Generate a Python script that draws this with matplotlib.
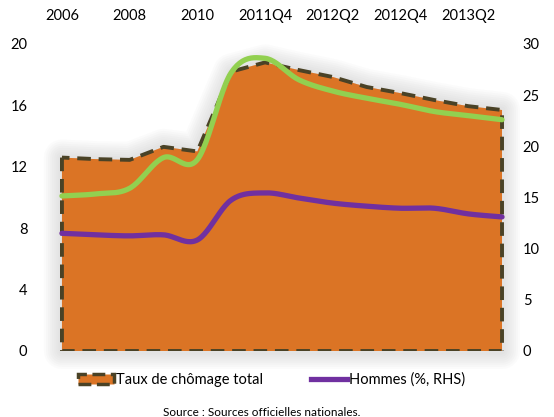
import numpy as np
import matplotlib
matplotlib.use('Agg')
import matplotlib.pyplot as plt
from matplotlib import patheffects as pe
from matplotlib.patches import Patch
from matplotlib.lines import Line2D

plt.rcParams['font.family'] = ['Lato', 'DejaVu Sans']

# données
categories = ['2006', '2007', '2008', '2009', '2010', '2011Q3', '2011Q4', '2012Q1',
              '2012Q2', '2012Q3', '2012Q4', '2013Q1', '2013Q2', '2013Q3']
total = [12.6, 12.5, 12.45, 13.3, 13.0, 18.2, 18.8, 18.3, 17.85, 17.2, 16.8, 16.35, 15.95, 15.7]
femmes_rhs = [15.15, 15.35, 15.9, 18.9, 18.7, 27.2, 28.6, 26.5, 25.4, 24.7, 24.1, 23.4, 23.0, 22.6]
hommes_rhs = [11.5, 11.35, 11.25, 11.35, 10.85, 14.75, 15.45, 14.95, 14.45, 14.15, 13.95, 13.95, 13.4, 13.1]

left_ticks = [0, 4, 8, 12, 16, 20]
right_ticks = [0, 5, 10, 15, 20, 25, 30]

ORANGE = '#DB7425'
EDGE = '#4A4226'
GREEN = '#92D050'
PURPLE = '#7030A0'


def smooth(x, y, n=24):
    # lissage type Excel (Catmull-Rom)
    x = np.asarray(x, float)
    y = np.asarray(y, float)
    px = np.concatenate([[2 * x[0] - x[1]], x, [2 * x[-1] - x[-2]]])
    py = np.concatenate([[2 * y[0] - y[1]], y, [2 * y[-1] - y[-2]]])
    xs, ys = [], []
    t = np.linspace(0, 1, n, endpoint=False)
    for i in range(1, len(px) - 2):
        for p, out in ((px, xs), (py, ys)):
            p0, p1, p2, p3 = p[i - 1], p[i], p[i + 1], p[i + 2]
            out.append(0.5 * (2 * p1 + (-p0 + p2) * t + (2 * p0 - 5 * p1 + 4 * p2 - p3) * t ** 2
                              + (-p0 + 3 * p1 - 3 * p2 + p3) * t ** 3))
    xs.append([x[-1]])
    ys.append([y[-1]])
    return np.concatenate(xs), np.concatenate(ys)


fig = plt.figure(figsize=(5.54, 4.17), dpi=100)
ax = fig.add_axes([0.0996, 0.1583, 0.8188, 0.7362])
ax2 = ax.twinx()

x = np.arange(len(categories))

# ombre douce autour de l'aire
shadow = ax.fill_between(x, 0, total, facecolor=ORANGE, edgecolor='none',
                         linewidth=0, zorder=1)
shadow.set_path_effects([pe.Stroke(linewidth=w, foreground='#707070', alpha=0.025,
                                   joinstyle='round')
                         for w in range(26, 2, -3)])
shadow.set_clip_on(False)

ax.fill_between(x, 0, total, facecolor=ORANGE, edgecolor=EDGE,
                linewidth=2.8, linestyle=(0, (3.5, 2)), zorder=2)

gx, gy = smooth(x, femmes_rhs)
ax2.plot(gx, gy, color=GREEN, lw=3.8, solid_capstyle='round', zorder=3)
hx, hy = smooth(x, hommes_rhs)
ax2.plot(hx, hy, color=PURPLE, lw=3.8, solid_capstyle='round', zorder=3)

ax.set_xlim(-0.2, 13.2)
ax.set_ylim(0, 20)
ax2.set_ylim(0, 30)
ax.set_yticks(left_ticks)
ax2.set_yticks(right_ticks)
ax.set_xticks(x[::2])
ax.set_xticklabels(categories[::2])
ax.xaxis.tick_top()

for a in (ax, ax2):
    for s in a.spines.values():
        s.set_visible(False)
    a.tick_params(length=0, labelsize=10.5, colors='black')
ax.tick_params(axis='y', pad=20)
ax.tick_params(axis='x', pad=15)
ax2.tick_params(axis='y', pad=10)

handles = [Patch(facecolor=ORANGE, edgecolor=EDGE, linewidth=2.5, linestyle='--',
                 label='Taux de chômage total'),
           Line2D([], [], color=PURPLE, lw=3.8, label='Hommes (%, RHS)')]
fig.legend(handles=handles, loc='center', bbox_to_anchor=(0.49, 0.089), ncol=2,
           frameon=False, fontsize=10.5, handlelength=2.5, handletextpad=0.1,
           columnspacing=3.3)

fig.text(0.473, 0.01, 'Source : Sources officielles nationales.', ha='center',
         va='center', fontsize=8.5)

fig.savefig('out.png', dpi=100)
